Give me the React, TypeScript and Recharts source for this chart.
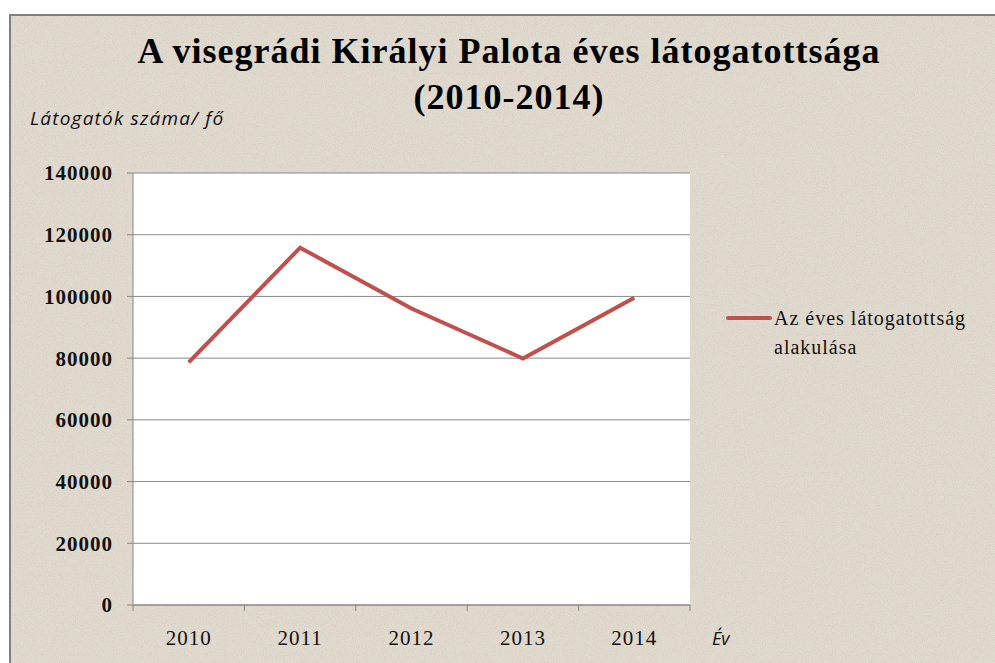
import { CartesianGrid, Line, LineChart, XAxis, YAxis } from "recharts";

const years = ["2010", "2011", "2012", "2013", "2014"];
const visitors = [78600, 115800, 96100, 79900, 99600];
const yTicks = [0, 20000, 40000, 60000, 80000, 100000, 120000, 140000];

const seriesName = "Az éves látogatottság alakulása";
const lineColor = "#C0504D";
const serif = "'Liberation Serif', 'Times New Roman', serif";
const sans = "'Open Sans', Lato, sans-serif";

const data = years.map((year, i) => ({ year, value: visitors[i] }));

const YearTick = (props: any) => {
  const { x, y, payload, index } = props;
  const half = payload.offset ?? 0;
  return (
    <g>
      <line x1={x - half} x2={x - half} y1={y - 25} y2={y - 19} stroke="#868686" />
      {index === years.length - 1 && (
        <line x1={x + half} x2={x + half} y1={y - 25} y2={y - 19} stroke="#868686" />
      )}
      <text
        x={x}
        y={y}
        dy="0.71em"
        textAnchor="middle"
        fill="#111"
        style={{ fontFamily: serif, fontSize: 21, letterSpacing: 1 }}
      >
        {payload.value}
      </text>
    </g>
  );
};

export default function App() {
  return (
    <div style={{ position: "absolute", left: 0, top: 0, width: 995, height: 663, background: "#fff", overflow: "hidden" }}>
      <svg width={995} height={663} style={{ position: "absolute", left: 0, top: 0 }}>
        <defs>
          <filter id="grain" x="0" y="0" width="100%" height="100%">
            <feTurbulence type="fractalNoise" baseFrequency="0.9" numOctaves={2} seed={4} result="n" />
            <feColorMatrix
              in="n"
              type="matrix"
              values="0 0 0 0 0.55  0 0 0 0 0.5  0 0 0 0 0.44  0 0 0 -2.2 1.25"
            />
          </filter>
        </defs>
        <rect x={9} y={14} width={986} height={649} fill="#E1DACE" />
        <rect x={9} y={14} width={986} height={649} filter="url(#grain)" opacity={0.4} />
        <line x1={9} x2={995} y1={15} y2={15} stroke="#7f7f7f" strokeWidth={2} />
        <line x1={10} x2={10} y1={14} y2={663} stroke="#7f7f7f" strokeWidth={2} />
      </svg>

      <div
        style={{
          position: "absolute",
          left: 0,
          top: 28,
          width: 1018,
          textAlign: "center",
          fontFamily: serif,
          fontWeight: "bold",
          fontSize: 36,
          letterSpacing: 1,
          lineHeight: "46px",
          color: "#000",
        }}
      >
        A visegrádi Királyi Palota éves látogatottsága
        <br />
        (2010-2014)
      </div>

      <div
        style={{
          position: "absolute",
          left: 30,
          top: 108,
          fontFamily: sans,
          fontStyle: "italic",
          fontSize: 19,
          letterSpacing: 1.2,
          lineHeight: "20px",
          color: "#111",
          whiteSpace: "nowrap",
        }}
      >
        Látogatók száma/ fő
      </div>

      <div
        style={{
          position: "absolute",
          left: 712,
          top: 628,
          fontFamily: sans,
          fontStyle: "italic",
          fontSize: 18,
          lineHeight: "20px",
          color: "#111",
        }}
      >
        Év
      </div>

      <div style={{ position: "absolute", left: 0, top: 0 }}>
        <LineChart width={995} height={663} data={data} margin={{ top: 173, right: 305, bottom: 0, left: 0 }}>
          <CartesianGrid horizontal vertical={false} stroke="#8a8a8a" fill="#ffffff" />
          <XAxis
            dataKey="year"
            scale="band"
            height={58}
            axisLine={{ stroke: "#868686" }}
            tickLine={false}
            tickSize={6}
            tickMargin={19}
            tick={<YearTick />}
            interval={0}
          />
          <YAxis
            width={133}
            domain={[0, 140000]}
            ticks={yTicks}
            interval={0}
            axisLine={{ stroke: "#868686" }}
            tickLine={{ stroke: "#868686" }}
            tickSize={6}
            tickMargin={14}
            tick={{ fill: "#111", style: { fontFamily: serif, fontSize: 21, fontWeight: "bold", letterSpacing: 1 } }}
          />
          <Line
            type="linear"
            dataKey="value"
            name={seriesName}
            stroke={lineColor}
            strokeWidth={4}
            dot={false}
            activeDot={false}
            isAnimationActive={false}
          />
        </LineChart>
      </div>

      <div
        style={{
          position: "absolute",
          left: 726,
          top: 304,
          display: "flex",
          alignItems: "flex-start",
          fontFamily: serif,
          fontSize: 20,
          letterSpacing: 1,
          color: "#111",
        }}
      >
        <svg width={46} height={28} style={{ flex: "none" }}>
          <line x1={2} x2={44} y1={14} y2={14} stroke={lineColor} strokeWidth={4} strokeLinecap="round" />
        </svg>
        <div style={{ lineHeight: "29px", marginLeft: 2, width: 220 }}>
          Az éves látogatottság
          <br />
          alakulása
        </div>
      </div>
    </div>
  );
}
